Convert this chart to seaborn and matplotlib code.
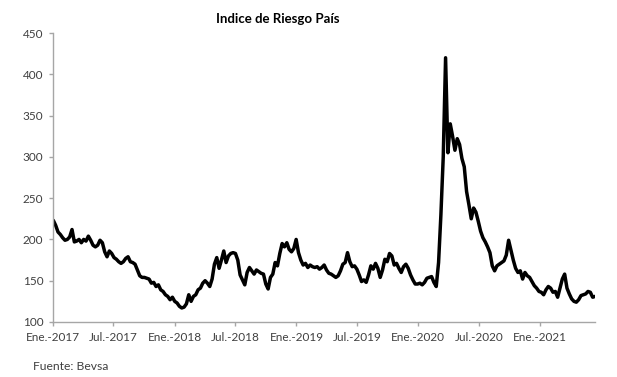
import pandas as pd
import numpy as np
import matplotlib
matplotlib.use("Agg")
import matplotlib.pyplot as plt
import seaborn as sns

# Weekly readings of the country-risk index (first week of Jan 2017 onwards)
start_date = "2017-01-02"
values = [
    223, 217, 209, 206, 202, 199, 200, 203, 212, 197,
    198, 200, 196, 200, 198, 204, 199, 193, 191, 193,
    199, 196, 185, 179, 186, 183, 178, 176, 173, 171,
    173, 177, 179, 173, 172, 170, 163, 156, 154, 154,
    153, 152, 147, 148, 143, 145, 139, 137, 133, 131,
    127, 130, 125, 123, 119, 117, 118, 122, 133, 125,
    131, 133, 139, 141, 147, 150, 147, 143, 152, 170,
    178, 165, 175, 186, 172, 180, 183, 184, 183, 175,
    157, 151, 145, 160, 166, 162, 158, 163, 161, 159,
    158, 146, 140, 154, 158, 172, 168, 183, 195, 191,
    196, 188, 185, 189, 200, 184, 175, 169, 171, 166,
    169, 167, 166, 167, 164, 166, 169, 163, 159, 158,
    156, 154, 156, 162, 170, 172, 184, 173, 167, 168,
    164, 157, 149, 151, 148, 157, 168, 164, 171, 165,
    154, 163, 176, 173, 183, 180, 169, 171, 165, 160,
    167, 170, 165, 157, 151, 146, 146, 147, 145, 148,
    153, 154, 155, 148, 143, 172, 230, 300, 420, 305,
    340, 325, 308, 322, 315, 298, 288, 258, 242, 225,
    238, 233, 222, 210, 202, 197, 191, 184, 168, 162,
    168, 170, 172, 174, 181, 199, 187, 175, 165, 160,
    162, 152, 160, 156, 154, 149, 144, 141, 137, 136,
    133, 139, 143, 141, 136, 137, 130, 141, 152, 158,
    141, 134, 128, 125, 124, 127, 132, 133, 134, 137,
    136, 130, 131,
]
tick_dates = ["2017-01-01", "2017-07-01", "2018-01-01", "2018-07-01",
              "2019-01-01", "2019-07-01", "2020-01-01", "2020-07-01",
              "2021-01-01"]
tick_labels = ["Ene.-2017", "Jul.-2017", "Ene.-2018", "Jul.-2018",
               "Ene.-2019", "Jul.-2019", "Ene.-2020", "Jul.-2020",
               "Ene.-2021"]
y_ticks = [100, 150, 200, 250, 300, 350, 400, 450]

df = pd.DataFrame({
    "fecha": pd.date_range(start_date, periods=len(values), freq="7D"),
    "valor": values,
})

sns.set_theme(style="white")
plt.rcParams["font.family"] = ["Lato", "DejaVu Sans"]

fig = plt.figure(figsize=(6.17, 3.77), dpi=100)
ax = fig.add_axes([53 / 617, 1 - 322 / 377, (595 - 53) / 617, (322 - 33) / 377])

sns.lineplot(data=df, x="fecha", y="valor", color="black", linewidth=2.5, ax=ax)

ax.set_ylim(100, 450)
ax.set_xlim(pd.Timestamp("2017-01-01"), df["fecha"].iloc[-1])
ax.set_yticks(y_ticks)
ax.set_xticks(pd.to_datetime(tick_dates))
ax.set_xticklabels(tick_labels)
ax.set_xlabel("")
ax.set_ylabel("")

for s in ["top", "right"]:
    ax.spines[s].set_visible(False)
for s in ["left", "bottom"]:
    ax.spines[s].set_color("#a6a6a6")
    ax.spines[s].set_linewidth(1.0)

ax.tick_params(axis="both", which="major", direction="out", length=3, width=1,
               color="#a6a6a6", labelcolor="#404040", labelsize=8.5, pad=4,
               bottom=True, left=True)
ax.grid(False)

fig.text(278 / 617, 1 - 19 / 377, "Indice de Riesgo País", ha="center", va="center",
         fontsize=9.5, fontweight="bold", color="black")
fig.text(33 / 617, 1 - 367 / 377, "Fuente: Bevsa", ha="left", va="center",
         fontsize=8.7, color="#404040")

fig.savefig("out.png", dpi=100)
